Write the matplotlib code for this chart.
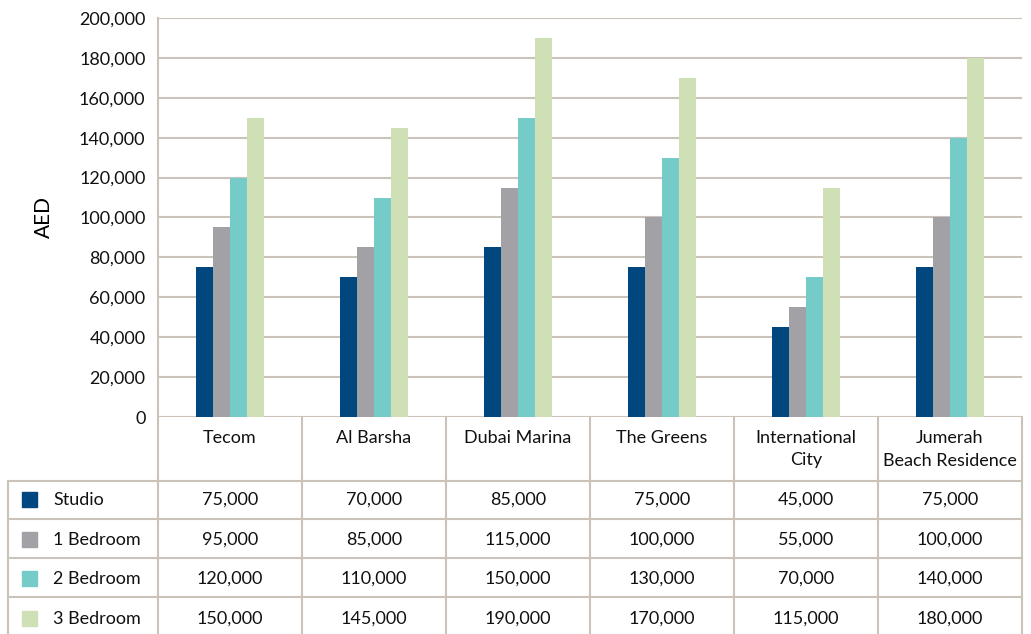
import numpy as np
import matplotlib.pyplot as plt
from matplotlib.ticker import FuncFormatter

plt.rcParams['font.family'] = ['Lato', 'DejaVu Sans']

areas = ["Tecom", "Al Barsha", "Dubai Marina", "The Greens",
         "International\nCity", "Jumerah\nBeach Residence"]
series = ["Studio", "1 Bedroom", "2 Bedroom", "3 Bedroom"]
studio = [75000, 70000, 85000, 75000, 45000, 75000]
bed1 = [95000, 85000, 115000, 100000, 55000, 100000]
bed2 = [120000, 110000, 150000, 130000, 70000, 140000]
bed3 = [150000, 145000, 190000, 170000, 115000, 180000]
values = [studio, bed1, bed2, bed3]
colors = ["#00467F", "#A1A1A6", "#74CBC8", "#D0E0B6"]
line_col = "#CBC3BA"

W, H = 1031, 634
fig = plt.figure(figsize=(W / 100, H / 100), dpi=100)

# chart area in pixels
left, right, top, bottom = 158, 1022, 18, 417
ax = fig.add_axes([left / W, 1 - bottom / H, (right - left) / W, (bottom - top) / H])

x = np.arange(len(areas))
bw = 0.118
for i, (vals, c) in enumerate(zip(values, colors)):
    ax.bar(x + (i - 1.5) * bw, vals, width=bw, color=c, zorder=3)

ax.set_xlim(-0.5, len(areas) - 0.5)
ax.set_ylim(0, 200000)
ax.set_yticks(np.arange(0, 200001, 20000))
ax.yaxis.set_major_formatter(FuncFormatter(lambda v, p: f"{int(v):,}"))
ax.tick_params(axis='y', length=0, pad=9, labelsize=13, colors="#111111")
ax.set_xticks([])
ax.grid(axis='y', color=line_col, linewidth=1.5, zorder=0)
for s in ["top", "right", "bottom"]:
    ax.spines[s].set_visible(False)
ax.spines["left"].set_color(line_col)
ax.spines["left"].set_linewidth(1.5)
ax.set_ylabel("AED", fontsize=15, labelpad=18)

# data table below the chart, x in category units, y in pixels
cat_px = (right - left) / len(areas)
tleft = 8
tx0 = -0.5 - (left - tleft) / cat_px
tab = fig.add_axes([tleft / W, 0, (right - tleft) / W, (H - bottom) / H])
tab.set_xlim(tx0, len(areas) - 0.5)
tab.set_ylim(H, bottom)
tab.axis("off")

rows_y = [481, 519, 558, 597, 636]
lw = 1.5
# vertical lines
tab.plot([-0.5, -0.5], [bottom, H], color=line_col, lw=lw, clip_on=False)
for b in np.arange(0.5, len(areas) + 0.5):
    tab.plot([b, b], [bottom, H], color=line_col, lw=lw, clip_on=False)
tab.plot([tx0, tx0], [rows_y[0], H], color=line_col, lw=lw, clip_on=False)
# horizontal lines
for yy in rows_y[:-1]:
    tab.plot([tx0, len(areas) - 0.5], [yy, yy], color=line_col, lw=lw, clip_on=False)

# header row
for xi, name in zip(x, areas):
    tab.text(xi, 430, name, ha="center", va="top", fontsize=13,
             linespacing=1.5, color="#111111")

# series rows
key_w = 15 / cat_px
row_mid = [500, 540, 579, 619]
for r, (name, vals, c) in enumerate(zip(series, values, colors)):
    yc = row_mid[r]
    tab.add_patch(plt.Rectangle((tx0 + 14 / cat_px, yc - 8), key_w, 15,
                                color=c, clip_on=False))
    tab.text(tx0 + 45 / cat_px, yc, name, ha="left", va="center",
             fontsize=13, color="#111111")
    for xi, v in zip(x, vals):
        tab.text(xi, yc, f"{v:,}", ha="center", va="center",
                 fontsize=13, color="#111111")

fig.savefig("out.png", dpi=100)
